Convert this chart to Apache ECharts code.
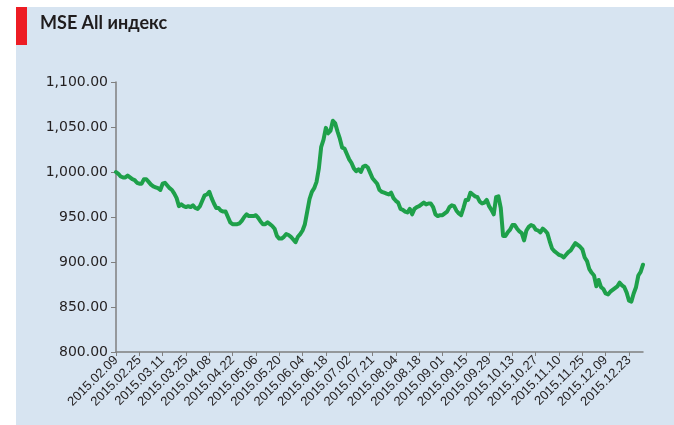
<!DOCTYPE html>
<html>
<head>
<meta charset="utf-8">
<title>MSE All индекс</title>
<script src="https://cdn.jsdelivr.net/npm/echarts@6/dist/echarts.min.js"></script>
<style>
    html, body { margin: 0; padding: 0; background: #fff; }
    #main { width: 674px; height: 425px; }
</style>
</head>
<body>
<div id="main"></div>
<script>
    // подписи оси X (каждые 10 торговых дней)
    var tickLabels = ['2015.02.09', '2015.02.25', '2015.03.11', '2015.03.25', '2015.04.08', '2015.04.22',
        '2015.05.06', '2015.05.20', '2015.06.04', '2015.06.18', '2015.07.02', '2015.07.21',
        '2015.08.04', '2015.08.18', '2015.09.01', '2015.09.15', '2015.09.29', '2015.10.13',
        '2015.10.27', '2015.11.10', '2015.11.25', '2015.12.09', '2015.12.23'];

    // значения индекса по дням
    var indexValues = [
        1000, 998, 995, 994, 994, 996, 994, 992, 991, 988,
        987, 987, 992, 992, 989, 986, 984, 983, 982, 980,
        987, 988, 985, 982, 980, 976, 971, 962, 964, 962,
        961, 962, 961, 963, 960, 959, 962, 968, 974, 975,
        978, 971, 965, 960, 960, 957, 956, 956, 950, 944,
        942, 942, 942, 943, 946, 950, 953, 951, 951, 951,
        952, 949, 945, 942, 942, 944, 942, 940, 937, 929,
        926, 926, 928, 931, 930, 928, 925, 922, 928, 931,
        935, 942, 956, 970, 978, 982, 989, 1004, 1028, 1036,
        1049, 1043, 1046, 1057, 1054, 1045, 1037, 1027, 1026, 1020,
        1014, 1010, 1004, 1001, 1003, 1000, 1006, 1007, 1005, 999,
        993, 990, 987, 980, 978, 977, 976, 975, 977, 971,
        968, 966, 959, 958, 956, 955, 959, 953, 959, 961,
        962, 964, 966, 964, 965, 965, 961, 953, 951, 952,
        952, 954, 956, 961, 963, 962, 957, 954, 952, 960,
        969, 969, 977, 975, 973, 972, 967, 965, 966, 969,
        962, 958, 953, 972, 973, 960, 929, 929, 933, 936,
        941, 941, 937, 934, 932, 924, 935, 939, 941, 940,
        936, 935, 933, 937, 935, 932, 923, 915, 912, 910,
        908, 907, 905, 908, 911, 913, 917, 921, 919, 917,
        914, 905, 901, 892, 888, 885, 873, 880, 872, 870,
        865, 864, 867, 869, 871, 873, 877, 874, 872, 866,
        857, 856, 865, 872, 885, 889, 897
    ];

    var yMin = 800, yMax = 1100, yStep = 50;

    // категории: подпись в начале каждого 10-дневного отрезка
    var categories = [];
    for (var i = 0; i < indexValues.length; i++) {
        categories.push(i % 10 === 0 ? (tickLabels[i / 10] || '') : '');
    }

    function fmtNum(v) {
        var s = v.toFixed(2);
        var parts = s.split('.');
        parts[0] = parts[0].replace(/\B(?=(\d{3})+(?!\d))/g, ',');
        return parts.join('.');
    }

    var myChart = echarts.init(document.getElementById('main'));
    myChart.setOption({
        animation: false,
        backgroundColor: '#ffffff',
        graphic: [
            {
                type: 'rect',
                shape: {x: 16, y: 7, width: 660, height: 420},
                style: {fill: '#d7e4f1'},
                z: -10
            },
            {
                type: 'rect',
                shape: {x: 16, y: 7, width: 11, height: 38},
                style: {fill: '#ed1c24'},
                z: -5
            },
            {
                type: 'text',
                left: 40,
                top: 14,
                style: {
                    text: 'MSE All индекс',
                    fill: '#1f1c1d',
                    font: 'bold 18px Lato, "Open Sans", sans-serif'
                }
            }
        ],
        grid: {
            left: 116,
            right: 31,
            top: 82,
            bottom: 73
        },
        xAxis: {
            type: 'category',
            boundaryGap: false,
            data: categories,
            axisLine: {lineStyle: {color: '#7f7f7f', width: 1.5}},
            axisTick: {
                show: true,
                interval: 9,
                length: 4,
                lineStyle: {color: '#7f7f7f'}
            },
            axisLabel: {
                interval: 9,
                rotate: 45,
                margin: 6,
                color: '#231f20',
                fontFamily: 'Liberation Sans, Arial, sans-serif',
                fontSize: 13
            },
            splitLine: {show: false}
        },
        yAxis: {
            type: 'value',
            min: yMin,
            max: yMax,
            interval: yStep,
            axisLine: {show: true, lineStyle: {color: '#7f7f7f', width: 1.5}},
            axisTick: {show: true, length: 5, lineStyle: {color: '#7f7f7f'}},
            axisLabel: {
                margin: 8,
                color: '#231f20',
                fontFamily: 'DejaVu Sans',
                fontSize: 14,
                formatter: function (v) { return fmtNum(v); }
            },
            splitLine: {show: false}
        },
        series: [
            {
                name: 'MSE All',
                type: 'line',
                data: indexValues,
                showSymbol: false,
                smooth: false,
                lineStyle: {color: '#1ea04a', width: 4, join: 'round', cap: 'round'},
                itemStyle: {color: '#1ea04a'}
            }
        ]
    });
</script>
</body>
</html>
